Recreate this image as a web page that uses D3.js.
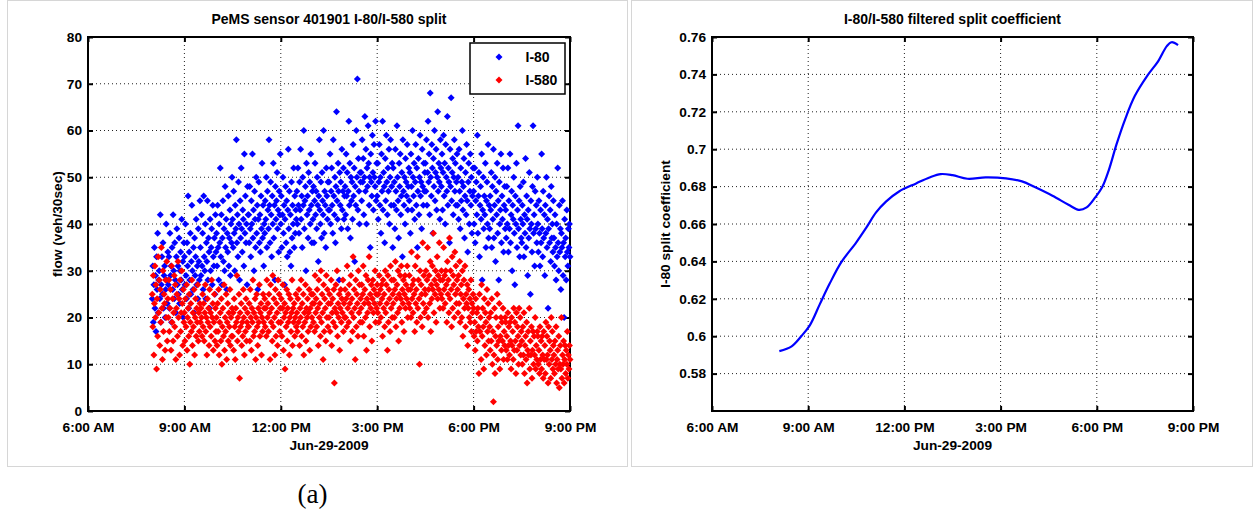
<!DOCTYPE html>
<html>
<head>
<meta charset="utf-8">
<script src="https://cdn.jsdelivr.net/npm/d3@7"></script>
<style>
  body { margin: 0; background: #fff; }
  svg text { font-family: "Liberation Sans", Arial, sans-serif; font-weight: bold; fill: #000; }
</style>
</head>
<body>
<svg id="chart" width="1257" height="515"></svg>
<script>
// sensor samples: one reading per minute starting at sampleStart
const sampleDay = "2009-06-29";
const sampleStart = "08:00";
const sampleStepMin = 1;

// I-80 flow (veh/30sec), one row per half hour
const i80Flow = [
  24,31,19,27,35,22,29,17,33,26,38,21,28,30,24,42,19,27,33,25,36,22,29,31,20,26,40,28,23,34,
  27,33,22,38,29,31,19,35,26,42,30,24,36,28,21,33,39,27,31,25,37,23,30,34,28,41,26,32,20,36,
  33,27,40,29,24,36,31,46,22,34,28,38,25,32,44,30,26,35,21,37,29,33,41,27,31,24,39,32,28,45,
  35,29,42,31,38,26,46,33,30,40,24,36,32,45,28,37,34,22,41,30,35,39,27,44,33,31,37,25,42,34,
  38,31,44,35,28,40,36,52,33,42,27,37,45,32,39,30,48,35,41,26,38,34,46,31,37,43,29,40,36,50,
  41,35,47,38,30,44,39,58,36,42,33,49,40,28,45,37,52,39,34,43,41,31,55,38,46,36,40,27,48,42,
  42,36,48,39,33,45,40,55,37,43,30,47,41,35,50,38,44,26,41,49,36,42,34,46,39,53,37,44,31,40,
  38,45,41,50,35,47,43,39,58,44,36,49,42,33,46,40,53,37,44,28,48,41,45,51,39,43,34,47,42,55,
  40,46,35,42,50,38,44,27,41,48,36,45,33,43,56,39,47,34,42,31,49,37,44,40,52,35,46,38,43,41,
  47,40,52,44,38,49,43,56,41,46,35,50,44,60,39,45,48,30,53,42,46,37,51,43,49,40,55,44,36,47,
  41,48,36,45,53,42,47,39,50,44,32,46,58,43,40,49,37,51,45,42,60,38,47,44,35,52,46,41,49,43,
  49,43,55,40,47,52,44,38,58,46,42,50,36,48,64,45,41,53,47,28,51,44,49,39,56,43,47,52,41,46,
  48,42,55,46,51,39,47,62,44,53,37,50,45,49,41,57,46,52,32,48,44,60,50,71,43,54,47,40,51,49,
  51,45,58,49,54,42,50,63,47,56,40,52,48,61,53,44,50,35,55,49,46,59,51,43,57,50,48,62,45,53,
  46,53,41,49,57,44,50,38,55,47,62,43,51,48,36,54,45,59,49,42,52,47,56,40,50,58,44,48,53,35,
  52,44,49,39,56,47,43,61,50,45,37,53,48,55,42,46,51,33,58,47,44,50,40,54,49,46,57,43,48,52,
  45,51,38,55,48,43,60,50,46,53,41,49,57,44,52,35,47,54,42,50,59,46,49,39,56,48,44,53,47,51,
  53,47,58,44,51,62,49,55,42,68,50,46,57,52,38,54,48,60,45,51,56,43,50,64,47,53,49,41,58,52,
  48,55,43,51,59,46,53,40,57,50,47,63,44,52,49,36,56,48,67,45,51,54,42,50,58,47,53,44,49,55,
  44,50,41,56,47,39,52,45,49,60,43,48,54,37,46,51,42,57,45,34,49,53,40,47,55,44,50,38,46,52,
  47,40,52,36,45,49,42,59,38,46,51,33,44,48,41,55,28,43,50,39,46,42,53,35,45,49,40,57,37,44,
  39,46,43,51,35,48,41,56,37,44,50,32,47,42,53,38,45,28,49,40,43,55,36,46,41,52,34,44,48,39,
  43,37,48,40,52,34,45,39,55,36,42,47,30,44,41,50,38,27,46,40,53,35,43,61,39,45,33,48,41,37,
  36,44,40,49,33,42,38,54,35,46,41,29,43,37,51,39,25,45,40,34,48,61,38,42,31,47,39,44,36,50,
  40,34,45,38,31,43,36,55,39,33,47,37,42,29,44,38,50,35,41,22,39,46,36,43,32,48,37,40,34,45,
  37,31,42,35,28,40,33,52,36,30,44,34,39,26,38,35,45,29,36,20,41,33,37,28,43,34,31,39,35,40,
  33
];

// I-580 flow (veh/30sec), one row per half hour
const i580Flow = [
  25,18,29,12,23,31,20,27,9,24,16,33,21,28,14,26,19,35,22,11,30,17,25,23,13,28,20,32,15,24,
  20,28,17,22,26,13,31,19,24,15,21,29,18,27,11,22,25,16,32,20,24,12,28,17,21,30,23,14,26,19,
  21,15,24,18,27,13,20,22,16,25,10,19,23,17,28,14,21,18,26,12,20,24,16,22,19,27,15,21,17,23,
  19,22,20,16,25,18,23,15,21,27,17,20,12,24,19,22,14,26,18,21,16,28,20,23,13,19,25,15,22,17,
  20,14,23,17,26,12,19,21,15,24,10,18,22,16,27,13,20,17,25,11,19,23,15,21,18,26,14,20,16,22,
  16,21,13,24,18,11,22,19,29,15,20,17,25,7,21,18,23,14,19,16,26,20,12,22,17,24,15,19,21,18,
  18,23,15,26,20,13,22,19,28,16,21,17,24,11,20,25,18,14,22,19,27,16,21,23,12,20,17,25,19,22,
  24,18,22,16,28,20,23,17,25,21,11,27,19,22,15,29,18,24,20,12,26,16,23,21,14,28,19,25,17,22,
  19,24,16,22,27,13,20,23,9,21,18,26,15,22,19,25,12,20,24,17,21,28,14,22,19,23,16,20,25,18,
  21,17,24,19,26,14,22,20,28,16,23,18,25,12,21,19,27,15,22,20,24,17,21,26,13,22,18,25,20,23,
  25,19,23,17,29,21,24,18,26,22,14,28,20,23,16,30,19,25,21,11,27,17,24,22,15,29,20,26,18,23,
  20,25,17,23,28,14,21,24,19,26,6,22,18,27,21,30,16,23,20,25,13,22,26,19,24,21,28,17,23,20,
  26,20,24,18,31,22,25,19,27,23,15,29,21,24,17,33,20,26,22,11,28,18,25,23,16,30,21,27,19,24,
  22,27,19,25,31,16,23,26,20,29,13,24,21,28,23,33,18,25,22,27,15,24,28,21,26,23,30,19,25,22,
  27,21,25,19,29,23,26,20,27,24,16,28,22,25,18,30,21,27,23,13,29,19,26,24,17,31,22,28,20,25,
  23,28,20,26,32,18,24,27,21,30,15,25,22,29,24,31,19,26,23,28,17,25,29,22,27,24,31,20,26,23,
  29,22,26,20,34,24,27,21,28,25,17,31,23,26,19,33,22,28,24,10,30,20,27,25,18,36,23,29,21,26,
  25,30,22,28,35,20,26,29,23,32,17,27,24,31,26,38,21,28,25,30,19,27,33,24,29,26,36,22,28,25,
  30,24,28,22,35,26,29,23,30,27,19,32,25,28,21,37,24,30,26,18,33,22,29,27,20,34,25,31,23,28,
  26,21,29,23,32,19,25,27,20,30,16,24,28,22,31,18,25,23,27,14,22,26,20,24,19,28,17,23,21,25,
  22,16,19,13,24,17,21,15,22,18,8,25,17,20,11,27,16,22,18,9,24,14,21,19,12,26,17,23,15,20,
  18,13,21,15,24,10,17,2,12,22,8,16,20,14,25,11,18,15,23,9,16,20,13,19,15,22,11,17,14,20,
  19,13,16,11,21,14,18,12,19,15,9,20,14,17,11,22,13,19,15,8,21,13,18,16,10,22,14,20,12,17,
  15,10,18,12,21,8,14,16,11,19,6,13,17,12,22,9,15,12,18,7,13,17,10,16,12,20,9,14,11,17,
  16,10,13,8,18,11,15,9,16,12,7,17,11,14,8,19,11,16,12,6,18,10,15,13,7,20,11,17,9,14,
  12,8,15,10,18,6,11,13,9,16,5,10,14,9,20,7,12,10,15,6,11,14,8,13,10,17,7,12,9,14,
  11
];

// filtered split coefficient (right panel)
const splitTimes = ["08:06","08:29","08:47","09:03","09:22","09:40","10:02","10:30","10:49","11:07",
  "11:26","11:50","12:22","12:47","13:08","13:30","13:58","14:32","15:10","15:40","16:05","16:37",
  "17:07","17:26","17:41","17:57","18:10","18:22","18:37","18:53","19:11","19:34","19:55","20:11",
  "20:20","20:32"];
const splitCoef = [0.592,0.5946,0.600,0.6058,0.6173,0.628,0.6396,0.6502,0.6582,0.6662,
  0.6721,0.6774,0.6817,0.6849,0.6867,0.6861,0.6842,0.6849,0.6844,0.6828,0.6796,0.6751,
  0.6703,0.6676,0.6689,0.6742,0.6796,0.6884,0.7027,0.716,0.7284,0.7391,0.7471,0.7551,
  0.7572,0.7556];

const timeTicks = ["06:00","09:00","12:00","15:00","18:00","21:00"];
const flowTicks = [0,10,20,30,40,50,60,70,80];
const coefTicks = [0.58,0.60,0.62,0.64,0.66,0.68,0.70,0.72,0.74,0.76];

const toDate = t => new Date(`${sampleDay}T${t}:00`);
const t0 = toDate(sampleStart);
const sampleTime = i => new Date(t0.getTime() + i * sampleStepMin * 60000);
const tickDates = timeTicks.map(toDate);
const fmtTime = d3.timeFormat("%-I:%M %p");

const svg = d3.select("#chart");

// panel frames
svg.append("rect").attr("x", 7.5).attr("y", 0.5).attr("width", 620).attr("height", 466)
  .attr("fill", "none").attr("stroke", "#d6d6d6");
svg.append("rect").attr("x", 631.5).attr("y", 0.5).attr("width", 621).attr("height", 466)
  .attr("fill", "none").attr("stroke", "#d6d6d6");

function drawAxes(g, x, y, yTicks, yFmt, left, right, top, bottom, cfg) {
  // grid
  g.append("g").selectAll("line").data(tickDates.slice(1, -1)).join("line")
    .attr("x1", d => x(d)).attr("x2", d => x(d)).attr("y1", top).attr("y2", bottom)
    .attr("stroke", "#222").attr("stroke-width", 1).attr("stroke-dasharray", "1,3");
  g.append("g").selectAll("line").data(yTicks.filter(v => y(v) > top + 1 && y(v) < bottom - 1)).join("line")
    .attr("x1", left).attr("x2", right).attr("y1", d => y(d)).attr("y2", d => y(d))
    .attr("stroke", "#222").attr("stroke-width", 1).attr("stroke-dasharray", "1,3");

  const xb = d3.axisBottom(x).tickValues(tickDates).tickFormat(fmtTime).tickSizeInner(-5).tickSizeOuter(0).tickPadding(11);
  const xt = d3.axisTop(x).tickValues(tickDates).tickFormat("").tickSizeInner(-5).tickSizeOuter(0);
  const yl = d3.axisLeft(y).tickValues(yTicks).tickFormat(yFmt).tickSizeInner(-5).tickSizeOuter(0).tickPadding(6);
  const yr = d3.axisRight(y).tickValues(yTicks).tickFormat("").tickSizeInner(-5).tickSizeOuter(0);

  [[xb, `translate(0,${bottom})`], [xt, `translate(0,${top})`], [yl, `translate(${left},0)`], [yr, `translate(${right},0)`]]
    .forEach(([ax, tr]) => {
      const a = g.append("g").attr("transform", tr).call(ax);
      a.select(".domain").remove();
      a.selectAll(".tick line").attr("stroke", "#000").attr("stroke-width", 2);
      a.selectAll("text").attr("font-size", 13.7).attr("font-family", null);
    });

  g.append("rect").attr("x", left).attr("y", top).attr("width", right - left).attr("height", bottom - top)
    .attr("fill", "none").attr("stroke", "#000").attr("stroke-width", 2);

  const cx = (left + right) / 2;
  g.append("text").attr("x", cx).attr("y", 450).attr("text-anchor", "middle").attr("font-size", 13.7).text("Jun-29-2009");
  g.append("text").attr("x", cx).attr("y", 24).attr("text-anchor", "middle").attr("font-size", 14).text(cfg.title);
  g.append("text").attr("transform", `translate(${cfg.ylabX},${(top + bottom) / 2}) rotate(-90)`)
    .attr("text-anchor", "middle").attr("font-size", 13.7).text(cfg.ylabel);
}

// ---- left panel: scatter ----
const L = { left: 88, right: 570, top: 37, bottom: 411 };
const xL = d3.scaleTime().domain([tickDates[0], tickDates[tickDates.length - 1]]).range([L.left, L.right]);
const yL = d3.scaleLinear().domain([0, 80]).range([L.bottom, L.top]);
const gL = svg.append("g");

const diamond = "M0,-3.5L3.5,0L0,3.5L-3.5,0Z";
const series = [
  { name: "I-80", values: i80Flow, color: "#0000ff" },
  { name: "I-580", values: i580Flow, color: "#ff0000" }
];

drawAxes(gL, xL, yL, flowTicks, d3.format("d"), L.left, L.right, L.top, L.bottom,
  { title: "PeMS sensor 401901 I-80/I-580 split", ylabel: "flow (veh/30sec)", ylabX: 62 });

series.forEach(s => {
  gL.append("g").selectAll("path").data(s.values).join("path")
    .attr("d", diamond)
    .attr("transform", (v, i) => `translate(${xL(sampleTime(i))},${yL(v)})`)
    .attr("fill", s.color);
});

// legend
const lg = gL.append("g");
lg.append("rect").attr("x", 470).attr("y", 43).attr("width", 95).attr("height", 51)
  .attr("fill", "#fff").attr("stroke", "#000").attr("stroke-width", 1.5);
series.forEach((s, i) => {
  lg.append("path").attr("d", diamond).attr("transform", `translate(499,${57 + i * 23})`).attr("fill", s.color);
  lg.append("text").attr("x", 525.5).attr("y", 62 + i * 23).attr("font-size", 14).text(s.name);
});

// ---- right panel: split coefficient ----
const R = { left: 712, right: 1193, top: 37, bottom: 411 };
const xR = d3.scaleTime().domain([tickDates[0], tickDates[tickDates.length - 1]]).range([R.left, R.right]);
const yR = d3.scaleLinear().domain([0.56, 0.76]).range([R.bottom, R.top]);
const gR = svg.append("g");

drawAxes(gR, xR, yR, coefTicks, v => String(+v.toFixed(2)), R.left, R.right, R.top, R.bottom,
  { title: "I-80/I-580 filtered split coefficient", ylabel: "I-80 split coefficient", ylabX: 670 });

const line = d3.line()
  .x((d, i) => xR(toDate(splitTimes[i])))
  .y(d => yR(d))
  .curve(d3.curveCatmullRom);
gR.append("path").datum(splitCoef).attr("d", line)
  .attr("fill", "none").attr("stroke", "#0000ff").attr("stroke-width", 2.2);

// sub-figure caption
svg.append("text").attr("x", 312.5).attr("y", 503).attr("text-anchor", "middle")
  .style("font-family", "'Liberation Serif', 'DejaVu Serif', serif").style("font-weight", "normal")
  .attr("font-size", 27).text("(a)");
</script>
</body>
</html>
